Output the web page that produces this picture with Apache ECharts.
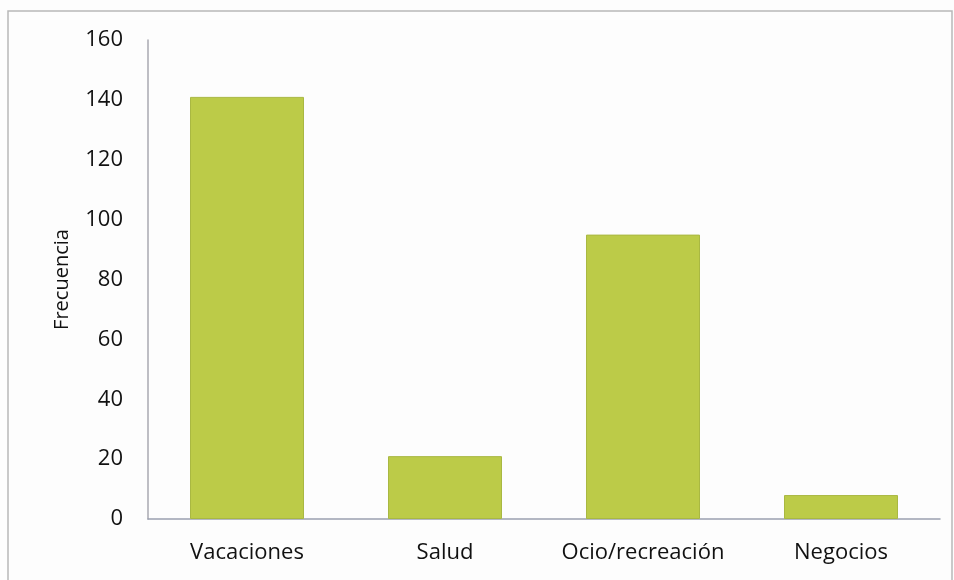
<!DOCTYPE html>
<html>
<head>
<meta charset="utf-8">
<script src="https://cdn.jsdelivr.net/npm/echarts@6/dist/echarts.min.js"></script>
<style>
  html, body { margin: 0; padding: 0; background: #fff; }
  #myChart { width: 954px; height: 580px; }
</style>
</head>
<body>
<div id="myChart"></div>
<script>
var categories = ['Vacaciones', 'Salud', 'Ocio/recreación', 'Negocios'];
var frecuencia = [141, 21, 95, 8];

var myChart = echarts.init(document.getElementById('myChart'));

var option = {
    backgroundColor: '#fdfdfd',
    graphic: [{
        type: 'rect',
        shape: { x: 8, y: 11, width: 944, height: 575 },
        style: { fill: 'none', stroke: '#b8b8b8', lineWidth: 1.5 }
    }],
    grid: { left: 148, right: 14, top: 40, bottom: 61 },
    xAxis: {
        type: 'category',
        data: categories,
        axisLine: { lineStyle: { color: '#9aa0b0', width: 1.5 } },
        axisTick: { show: false },
        axisLabel: { color: '#111', fontSize: 22, margin: 23, interval: 0, hideOverlap: false, fontFamily: 'Open Sans' }
    },
    yAxis: {
        type: 'value',
        min: 0,
        max: 160,
        interval: 20,
        name: 'Frecuencia',
        nameLocation: 'middle',
        nameGap: 76,
        nameTextStyle: { color: '#111', fontSize: 20, fontFamily: 'Open Sans' },
        axisLine: { show: true, lineStyle: { color: '#a8a8b0', width: 1.5 } },
        axisTick: { show: false },
        splitLine: { show: false },
        axisLabel: { color: '#111', fontSize: 22, margin: 25, fontFamily: 'Open Sans' }
    },
    series: [{
        type: 'bar',
        data: frecuencia,
        barWidth: 114,
        itemStyle: { color: '#bccb48', borderColor: '#a9b842', borderWidth: 1 }
    }]
};

myChart.setOption(option);
</script>
</body>
</html>
